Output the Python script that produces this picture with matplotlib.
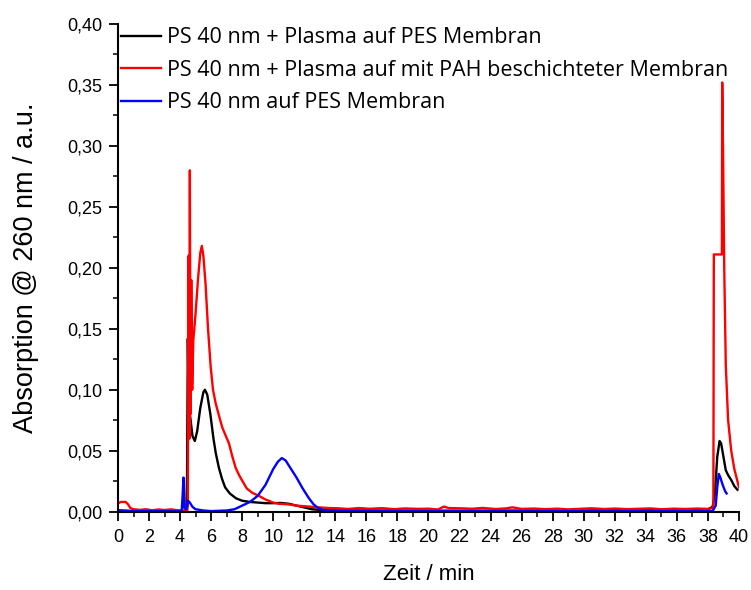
import numpy as np
import matplotlib
matplotlib.use("Agg")
import matplotlib.pyplot as plt
from matplotlib.ticker import MultipleLocator, FuncFormatter

# Zeit / min und Absorption
t_black = [0.0, 1.0, 4.4, 4.45, 4.5, 4.55, 4.65, 4.8, 4.95, 5.1, 5.3, 5.5, 5.6, 5.75,
           5.95, 6.15, 6.3, 6.5, 6.7, 6.9, 7.2, 7.6, 8.0, 8.5, 9.0, 9.5, 10.0, 10.5,
           11.0, 11.5, 12.0, 12.5, 13.0, 14.0, 20.0, 30.0, 36.0, 38.0, 38.3, 38.45,
           38.6, 38.75, 38.85, 39.0, 39.15, 39.3, 39.5, 39.7, 39.9]
a_black = [0.001, 0.0005, 0.0005, 0.03, 0.142, 0.09, 0.078, 0.062, 0.058, 0.066, 0.085,
           0.098, 0.100, 0.096, 0.080, 0.060, 0.048, 0.036, 0.027, 0.020, 0.015, 0.011,
           0.009, 0.008, 0.0075, 0.007, 0.007, 0.0072, 0.0065, 0.005, 0.0035, 0.002,
           0.0015, 0.001, 0.0008, 0.001, 0.0015, 0.002, 0.004, 0.015, 0.045, 0.058,
           0.056, 0.045, 0.034, 0.030, 0.026, 0.021, 0.018]

t_red = [0.0, 0.2, 0.5, 0.65, 0.8, 1.0, 1.4, 1.8, 2.2, 2.6, 3.0, 3.4, 3.8, 4.3, 4.45,
         4.5, 4.55, 4.6, 4.63, 4.67, 4.72, 4.78, 4.85, 5.0, 5.15, 5.3, 5.4, 5.5, 5.64,
         5.8, 5.97, 6.12, 6.29, 6.5, 6.72, 6.95, 7.15, 7.35, 7.58, 7.8, 8.0, 8.3, 8.65,
         9.08, 9.5, 10.0, 10.37, 11.0, 11.5, 12.0, 12.5, 13.0, 13.6, 14.2, 14.8, 15.5,
         16.2, 17.0, 17.8, 18.5, 19.3, 20.0, 20.6, 21.0, 21.3, 22.0, 22.8, 23.5, 24.3,
         25.0, 25.4, 26.0, 26.8, 27.5, 28.3, 29.0, 29.8, 30.5, 31.3, 32.0, 32.8, 33.5,
         34.3, 35.0, 35.8, 36.5, 37.3, 38.0, 38.35, 38.38, 38.9, 38.92, 38.97, 39.05,
         39.15, 39.3, 39.5, 39.7, 39.9, 40.0]
a_red = [0.007, 0.008, 0.008, 0.006, 0.003, 0.002, 0.0015, 0.002, 0.0012, 0.0018, 0.0014,
         0.0019, 0.0013, 0.001, 0.0, 0.005, 0.21, 0.06, 0.28, 0.08, 0.19, 0.10, 0.14,
         0.163, 0.19, 0.212, 0.218, 0.21, 0.187, 0.15, 0.119, 0.10, 0.089, 0.079, 0.069,
         0.062, 0.056, 0.046, 0.036, 0.030, 0.0255, 0.019, 0.0155, 0.013, 0.010, 0.0075,
         0.0065, 0.006, 0.005, 0.0045, 0.004, 0.0035, 0.003, 0.0028, 0.0022, 0.003,
         0.0024, 0.0029, 0.0021, 0.0027, 0.0023, 0.0025, 0.0018, 0.0042, 0.003, 0.0028,
         0.0024, 0.0031, 0.0022, 0.0027, 0.0036, 0.0023, 0.0026, 0.0021, 0.0025, 0.0019,
         0.0024, 0.0028, 0.0022, 0.0026, 0.0021, 0.0024, 0.0027, 0.002, 0.0025, 0.0022,
         0.0026, 0.0023, 0.003, 0.211, 0.211, 0.352, 0.30, 0.20, 0.12, 0.075, 0.05,
         0.035, 0.025, 0.02]

t_blue = [0.0, 1.0, 4.1, 4.15, 4.22, 4.27, 4.4, 4.5, 4.6, 4.8, 5.0, 5.5, 6.0, 7.0, 7.5,
          8.0, 8.5, 9.0, 9.5, 10.0, 10.3, 10.55, 10.8, 11.1, 11.5, 11.9, 12.3, 12.6,
          12.9, 13.3, 14.0, 20.0, 30.0, 38.3, 38.5, 38.6, 38.7, 38.8, 38.95, 39.1, 39.2]
a_blue = [0.001, 0.0005, 0.0003, 0.01, 0.028, 0.003, 0.002, 0.009, 0.008, 0.004, 0.002,
          0.001, 0.0005, 0.001, 0.002, 0.005, 0.008, 0.013, 0.022, 0.035, 0.041, 0.044,
          0.042, 0.036, 0.028, 0.019, 0.011, 0.006, 0.003, 0.001, 0.0008, 0.0005,
          0.0005, 0.0005, 0.005, 0.02, 0.031, 0.028, 0.022, 0.017, 0.015]

labels = ["PS 40 nm + Plasma auf PES Membran",
          "PS 40 nm + Plasma auf mit PAH beschichteter Membran",
          "PS 40 nm auf PES Membran"]

plt.rcParams['font.family'] = ['Liberation Sans', 'DejaVu Sans']

fig = plt.figure(figsize=(7.51, 5.90), dpi=100)
ax = fig.add_axes([0.1571, 0.1327, 0.8269, 0.8266])

ax.plot(t_black, a_black, color='black', lw=1.7, label=labels[0])
ax.plot(t_red, a_red, color='red', lw=1.7, label=labels[1])
ax.plot(t_blue, a_blue, color='blue', lw=1.7, label=labels[2])

ax.set_xlim(0, 40)
ax.set_ylim(0, 0.40)
ax.xaxis.set_major_locator(MultipleLocator(2))
ax.xaxis.set_minor_locator(MultipleLocator(1))
ax.yaxis.set_major_locator(MultipleLocator(0.05))
ax.yaxis.set_minor_locator(MultipleLocator(0.025))
ax.yaxis.set_major_formatter(FuncFormatter(lambda v, p: ("%.2f" % v).replace('.', ',')))
ax.xaxis.set_major_formatter(FuncFormatter(lambda v, p: "%d" % v))

for s in ['top', 'right']:
    ax.spines[s].set_visible(False)
for s in ['left', 'bottom']:
    ax.spines[s].set_linewidth(1.5)
ax.tick_params(which='major', direction='out', length=6.5, width=1.3, labelsize=13)
ax.tick_params(axis='x', which='major', pad=6)
ax.tick_params(axis='y', which='major', pad=5)
ax.tick_params(which='minor', direction='out', length=3.5, width=1.1)

ax.set_xlabel("Zeit / min", fontsize=16, labelpad=13)
ax.set_ylabel("Absorption @ 260 nm / a.u.", fontsize=19.5, labelpad=20)

leg = ax.legend(loc='upper left', bbox_to_anchor=(0.005, 0.993), frameon=False,
                borderaxespad=0, borderpad=0, prop={'family': 'Open Sans', 'size': 15.5},
                handlelength=1.86, handletextpad=0.25, labelspacing=0.53)

fig.savefig("out.png", dpi=100)
